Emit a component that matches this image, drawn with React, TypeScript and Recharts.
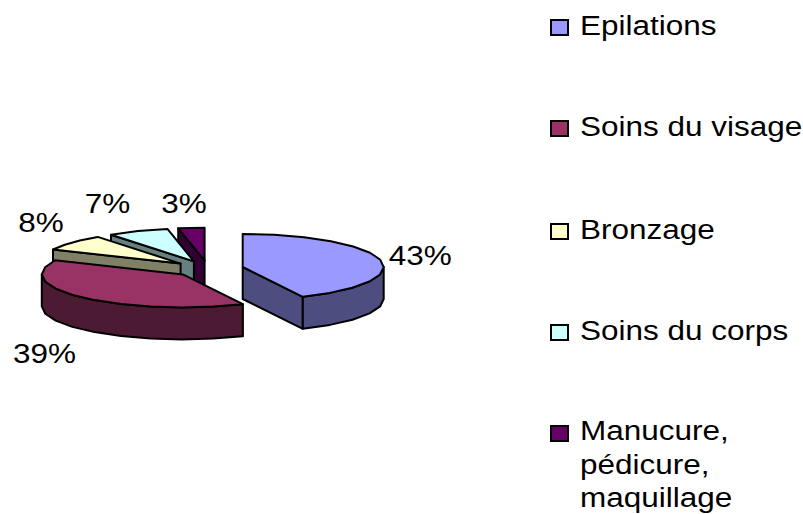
import React from "react";
import { PieChart, Pie, Legend } from "recharts";

const categories = ["Epilations", "Soins du visage", "Bronzage", "Soins du corps", "Manucure, pédicure, maquillage"];
const shares = [43, 39, 8, 7, 3];
const topColors = ["#9999FF", "#993366", "#FFFFCC", "#CCFFFF", "#660066"];
const sideColors = ["#4D4D80", "#4D1A33", "#808066", "#668080", "#330033"];
const legendLines = [["Epilations"], ["Soins du visage"], ["Bronzage"], ["Soins du corps"], ["Manucure,", "pédicure,", "maquillage"]];

// Layout constants
const CX = 208, CY = 268.7, RX = 141, SQUASH = 33 / 141, DEPTH = 32;
const EXPLODE_X = 35.6, EXPLODE_Y = 8, STEP = 13;
const FONT = "'Liberation Sans', Arial, sans-serif";
const FONT_SIZE = 28, STRETCH = 1.125;
const labelNudges = [[40, 5], [-38.6, 65.3], [-31, -10.3], [-30.4, -18], [-7.4, -14.8]];
const legendBaselines = [35, 136, 239, 340, 440];
const legendSwatchTops = [20, 121, 224, 325, 426];
const LEGEND_LEFT = 540, LINE_HEIGHT = 33.7;

// Painted from the back of the pie to the front, running counter-clockwise from 12 o'clock.
const slices = categories
  .map((name, i) => ({ name, value: shares[i], fill: topColors[i], side: sideColors[i], order: i }))
  .reverse();

const rad = (d: number) => (d * Math.PI) / 180;

function explodedCentre(cx: number, cy: number, mid: number) {
  return [cx + EXPLODE_X * Math.cos(rad(mid)), cy - EXPLODE_Y * Math.sin(rad(mid))];
}

function arcPoints(ex: number, ey: number, rx: number, ry: number, from: number, to: number, drop = 0) {
  const n = Math.max(1, Math.ceil((to - from) / STEP));
  const out: number[][] = [];
  for (let i = 0; i <= n; i++) {
    const a = rad(from + ((to - from) * i) / n);
    out.push([ex + rx * Math.cos(a), ey - ry * Math.sin(a) + drop]);
  }
  return out;
}

const path = (pts: number[][]) => "M" + pts.map((p) => `${p[0].toFixed(1)},${p[1].toFixed(1)}`).join("L") + "Z";

function Slice3D(props: any) {
  const { cx, cy, outerRadius, startAngle, endAngle, fill, payload } = props;
  const from = Math.min(startAngle, endAngle);
  const to = Math.max(startAngle, endAngle);
  const mid = (from + to) / 2;
  const rx = outerRadius;
  const ry = outerRadius * SQUASH;
  const [ex, ey] = explodedCentre(cx, cy, mid);
  const side = payload?.side ?? props.side;
  const common = { stroke: "#000", strokeWidth: 2, strokeLinejoin: "round" as const };

  const midPt = [rx * Math.cos(rad(mid)), -ry * Math.sin(rad(mid))];
  const faces = [from, to]
    .map((a) => {
      const d = [rx * Math.cos(rad(a)), -ry * Math.sin(rad(a))];
      if (Math.abs(d[0]) < 1) return null;
      const cross = d[0] * midPt[1] - d[1] * midPt[0];
      if (cross * Math.sign(d[0]) >= 0) return null;
      const p = [ex + d[0], ey + d[1]];
      return [[ex, ey], p, [p[0], p[1] + DEPTH], [ex, ey + DEPTH]];
    })
    .filter(Boolean) as number[][][];

  const lo = Math.max(from, 180);
  const hi = Math.min(to, 360);
  const wall =
    hi > lo
      ? [...arcPoints(ex, ey, rx, ry, lo, hi), ...arcPoints(ex, ey, rx, ry, lo, hi, DEPTH).reverse()]
      : null;
  const top = [[ex, ey], ...arcPoints(ex, ey, rx, ry, from, to)];

  return (
    <g>
      {faces.map((f, i) => (
        <path key={i} d={path(f)} fill={side} {...common} />
      ))}
      {wall && <path d={path(wall)} fill={side} {...common} />}
      <path d={path(top)} fill={fill} {...common} />
    </g>
  );
}

function SliceLabel(props: any) {
  const { cx, cy, outerRadius, midAngle, value, payload } = props;
  const order = payload?.order ?? props.order;
  const [ex, ey] = explodedCentre(cx, cy, midAngle);
  const ax = ex + outerRadius * Math.cos(rad(midAngle));
  const ay = ey - outerRadius * SQUASH * Math.sin(rad(midAngle));
  const [nx, ny] = labelNudges[order];
  return (
    <text
      transform={`translate(${ax + nx},${ay + ny}) scale(${STRETCH},1)`}
      textAnchor="middle"
      fontFamily={FONT}
      fontSize={FONT_SIZE}
      fill="#000"
    >
      {`${value}%`}
    </text>
  );
}

function LegendBlock(props: any) {
  const payload = props.payload ?? [];
  return (
    <svg width={803 - LEGEND_LEFT} height={514} style={{ display: "block", overflow: "visible" }}>
      {categories.map((name, i) => {
        const item = payload.find((p: any) => p.value === name);
        return (
          <g key={name}>
            <rect x={11} y={legendSwatchTops[i]} width={17} height={15} fill={item?.color ?? topColors[i]} stroke="#000" strokeWidth={2} />
            {legendLines[i].map((line, j) => (
              <text
                key={line}
                transform={`translate(40,${legendBaselines[i] + j * LINE_HEIGHT}) scale(${STRETCH},1)`}
                fontFamily={FONT}
                fontSize={FONT_SIZE}
                fill="#000"
              >
                {line}
              </text>
            ))}
          </g>
        );
      })}
    </svg>
  );
}

export default function App() {
  return (
    <div style={{ position: "absolute", left: 0, top: 0, width: 803, height: 514, overflow: "hidden", background: "#fff" }}>
      <PieChart width={803} height={514} margin={{ top: 0, right: 0, bottom: 0, left: 0 }}>
        <Pie
          data={slices}
          dataKey="value"
          nameKey="name"
          cx={CX}
          cy={CY}
          innerRadius={0}
          outerRadius={RX}
          startAngle={90}
          endAngle={450}
          stroke="none"
          shape={Slice3D}
          label={SliceLabel}
          labelLine={false}
          isAnimationActive={false}
        />
        <Legend
          content={LegendBlock}
          layout="vertical"
          align="right"
          verticalAlign="top"
          width={803 - LEGEND_LEFT}
          wrapperStyle={{ left: LEGEND_LEFT, top: 0, width: 803 - LEGEND_LEFT, height: 514, margin: 0, padding: 0 }}
        />
      </PieChart>
    </div>
  );
}
